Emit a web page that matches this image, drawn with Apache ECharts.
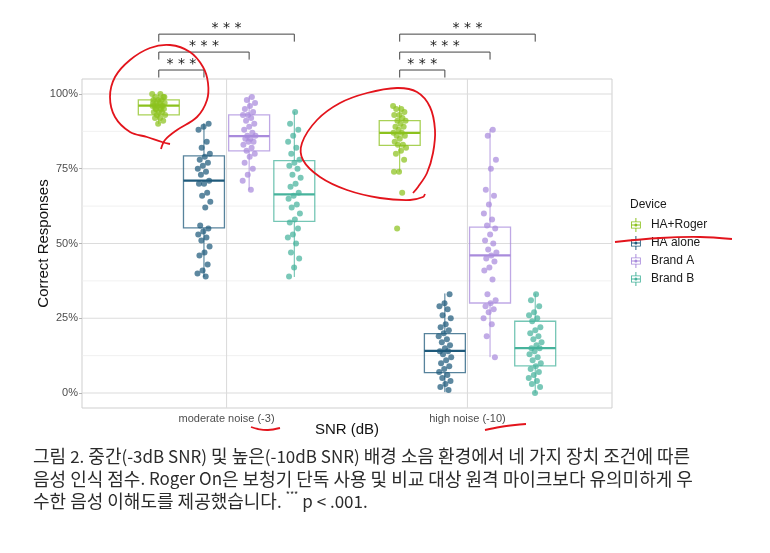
<!DOCTYPE html>
<html><head><meta charset="utf-8">
<script src="https://cdn.jsdelivr.net/npm/echarts@6/dist/echarts.min.js"></script>
<style>html,body{margin:0;padding:0;background:#fff}#c{width:770px;height:553px}</style>
</head><body><div id="c"></div>
<script>
// ---------- data ----------
const categories = ['moderate noise (-3)', 'high noise (-10)'];
const devices = ['HA+Roger', 'HA alone', 'Brand A', 'Brand B'];
const yTicks = [0, 25, 50, 75, 100];

// box stats [min, Q1, median, Q3, max], one per condition
const boxHARoger = [[90, 93, 96.1, 98, 100], [74, 82.8, 87, 91.1, 96.3]];
const boxHAAlone = [[38.8, 55.2, 71, 79.3, 90.2], [0.3, 6.8, 14.1, 19.9, 33.3]];
const boxBrandA  = [[67.9, 81, 85.9, 93, 99.3], [12, 30.1, 46, 55.5, 88.3]];
const boxBrandB  = [[38.8, 57.4, 66.4, 77.7, 94.1], [0, 9.1, 15, 24, 33.3]];

// individual scores, one list per condition
const ptsHARoger = [
  [100, 100, 99, 99, 98, 98, 98, 97, 97, 97, 96, 96, 96, 96, 95, 95, 95, 94, 94, 94, 93, 93, 92, 92, 91, 90, 97, 96, 95, 99],
  [96, 95, 95, 94, 93, 93, 92, 91, 91, 90, 89, 89, 88, 87, 87, 86, 86, 85, 84, 83, 83, 82, 81, 80, 78, 74, 74, 67, 55]
];
const ptsHAAlone = [
  [90, 89, 88, 84, 82, 80, 79, 78, 77, 76, 75, 74, 73, 71, 70, 70, 67, 66, 64, 62, 56, 55, 54, 53, 52, 51, 49, 47, 46, 43, 41, 40, 39],
  [33, 30, 29, 28, 26, 25, 23, 22, 21, 20, 19, 18, 17, 16, 15, 14, 14, 13, 12, 11, 10, 9, 8, 7, 6, 5, 4, 3, 2, 1]
];
const ptsBrandA = [
  [99, 98, 97, 96, 95, 94, 93, 93, 92, 91, 90, 89, 88, 87, 86, 86, 85, 85, 84, 84, 83, 82, 81, 80, 79, 77, 75, 73, 71, 68],
  [88, 86, 78, 75, 68, 66, 63, 60, 58, 56, 55, 53, 51, 50, 48, 47, 46, 45, 44, 42, 41, 38, 33, 31, 30, 29, 28, 27, 25, 23, 19, 12]
];
const ptsBrandB = [
  [94, 90, 88, 86, 84, 82, 80, 78, 77, 76, 75, 73, 72, 70, 69, 67, 66, 65, 63, 62, 60, 58, 57, 55, 53, 52, 50, 47, 45, 42, 39],
  [33, 31, 29, 27, 26, 25, 24, 22, 21, 20, 19, 18, 17, 16, 15, 15, 14, 13, 12, 11, 10, 9, 8, 7, 6, 5, 4, 3, 2, 0]
];

// pairwise comparisons (same in both conditions)
const comparisons = [['HA+Roger', 'HA alone'], ['HA+Roger', 'Brand A'], ['HA+Roger', 'Brand B']];
const sigLabel = '***';

const captionLines = [
  '그림 2. 중간(-3dB SNR) 및 높은(-10dB SNR) 배경 소음 환경에서 네 가지 장치 조건에 따른',
  '음성 인식 점수. Roger On은 보청기 단독 사용 및 비교 대상 원격 마이크보다 유의미하게 우',
  '수한 음성 이해도를 제공했습니다.'
];
const captionNote = 'p < .001.';

// ---------- styling / layout ----------
const colors = ['#8cc21e', '#1f5a7b', '#a98bdc', '#47b39c'];
const boxes = [boxHARoger, boxHAAlone, boxBrandA, boxBrandB];
const points = [ptsHARoger, ptsHAAlone, ptsBrandA, ptsBrandB];
const FONT = 'Liberation Sans';
const dodge = d => (d - 1.5) * 0.1875;
const jitter = i => (((i * 0.6180339) % 1) - 0.5) * 0.055;

function boxRender(params, api) {
  const x = api.value(0), mn = api.value(1), q1 = api.value(2), md = api.value(3), q3 = api.value(4), mx = api.value(5);
  const hw = 0.085;
  const tl = api.coord([x - hw, q3]), br = api.coord([x + hw, q1]);
  const pMin = api.coord([x, mn]), pMax = api.coord([x, mx]), pMd = api.coord([x, md]);
  const color = api.visual('color');
  return {type: 'group', children: [
    {type: 'line', shape: {x1: pMax[0], y1: pMax[1], x2: pMax[0], y2: tl[1]}, style: {stroke: color, lineWidth: 1, opacity: 0.85}},
    {type: 'line', shape: {x1: pMin[0], y1: br[1], x2: pMin[0], y2: pMin[1]}, style: {stroke: color, lineWidth: 1, opacity: 0.85}},
    {type: 'rect', shape: {x: tl[0], y: tl[1], width: br[0] - tl[0], height: br[1] - tl[1]},
      style: {fill: 'rgba(255,255,255,0)', stroke: color, lineWidth: 1.3, opacity: 0.75}},
    {type: 'line', shape: {x1: tl[0], y1: pMd[1], x2: br[0], y2: pMd[1]}, style: {stroke: color, lineWidth: 2.2}}
  ]};
}

// gridlines (major at ticks, minor at midpoints, vertical at categories)
const gridData = [];
yTicks.forEach((v, i) => {
  gridData.push([0, v, 1]);
  if (i < yTicks.length - 1) gridData.push([0, (v + yTicks[i + 1]) / 2, 0]);
});
categories.forEach((c, i) => gridData.push([1, i + 1, 1]));

function gridRender(params, api) {
  const cs = params.coordSys;
  const o = api.value(0), v = api.value(1), major = api.value(2);
  const style = {stroke: major ? '#dcdcdc' : '#ececec', lineWidth: major ? 1.1 : 0.8};
  if (o === 0) {
    const y = api.coord([1, v])[1];
    return {type: 'line', shape: {x1: cs.x, y1: y, x2: cs.x + cs.width, y2: y}, style};
  }
  const x = api.coord([v, 50])[0];
  return {type: 'line', shape: {x1: x, y1: cs.y, x2: x, y2: cs.y + cs.height}, style};
}

const bracketData = [];
categories.forEach((c, ci) => comparisons.forEach((cmp, k) => {
  bracketData.push([ci, devices.indexOf(cmp[0]), devices.indexOf(cmp[1]), k]);
}));
function bracketRender(params, api) {
  const c = api.value(0), a = api.value(1), b = api.value(2), k = api.value(3);
  const yv = 108 + 6 * k;
  const p1 = api.coord([c + 1 + dodge(a), yv]);
  const p2 = api.coord([c + 1 + dodge(b), yv]);
  const st = {stroke: '#444', lineWidth: 1};
  return {type: 'group', children: [
    {type: 'polyline', shape: {points: [[p1[0], p1[1] + 7.5], [p1[0], p1[1]], [p2[0], p2[1]], [p2[0], p2[1] + 7.5]]}, style: Object.assign({fill: null}, st)},
    {type: 'text', style: {text: sigLabel.split('').join(' '), x: (p1[0] + p2[0]) / 2, y: p1[1] + 1.5, align: 'center', verticalAlign: 'bottom',
      fontSize: 14, fontFamily: 'DejaVu Sans', fill: '#1a1a1a'}}
  ]};
}

const series = [
  {type: 'custom', name: 'grid', renderItem: gridRender, data: gridData, z: 1, silent: true, clip: false}
];
devices.forEach((name, d) => {
  series.push({
    type: 'custom', name, renderItem: boxRender, z: 3, silent: true,
    itemStyle: {color: colors[d]},
    data: boxes[d].map((b, c) => [c + 1 + dodge(d)].concat(b))
  });
});
devices.forEach((name, d) => {
  const data = [];
  points[d].forEach((arr, c) => arr.forEach((v, i) => data.push([c + 1 + dodge(d) + jitter(i + d * 3), v])));
  series.push({
    type: 'scatter', name, data, symbolSize: 6, z: 4, silent: true,
    itemStyle: {color: colors[d], opacity: 0.72}
  });
});
series.push({type: 'custom', name: 'brackets', renderItem: bracketRender, data: bracketData, z: 5, silent: true, clip: false});

const iconPath = 'path://M9.3 0H10.7V5H9.3Z M3 5H17V15H3Z M4.2 6.2V13.8H15.8V6.2Z M3 9.3H17V10.7H3Z M9.3 15H10.7V20H9.3Z M10 7.8A2.2 2.2 0 1 1 10 12.2A2.2 2.2 0 1 1 10 7.8Z';

// caption: Latin runs get their own (slightly smaller) rich style
const latinWrap = s => s.replace(/[!-~]+(?: [!-~]+)*/g, m => '{lat|' + m + '}');
const captionText = latinWrap(captionLines[0]) + '\n' + latinWrap(captionLines[1]) + '\n' +
  latinWrap(captionLines[2]) + ' {sup|' + sigLabel + '} ' + latinWrap(captionNote);

const red = '#e3141c';
const redLine = pts => ({type: 'polyline', shape: {points: pts, smooth: 0.35}, style: {stroke: red, lineWidth: 1.8, fill: null}, z: 100});

const chart = echarts.init(document.getElementById('c'), null, {renderer: 'canvas'});
chart.setOption({
  backgroundColor: '#fff',
  animation: false,
  textStyle: {fontFamily: FONT},
  title: [
    {text: 'Device', left: 630, top: 199, padding: 0, textStyle: {fontSize: 12, fontWeight: 'normal', color: '#1a1a1a', fontFamily: FONT}},
    {
      text: captionText,
      left: 33, top: 445, padding: 0,
      textStyle: {fontSize: 18, fontWeight: 'normal', color: '#2b2b2b', lineHeight: 22.5, fontFamily: 'Noto Sans CJK KR',
        rich: {
          lat: {fontSize: 17, lineHeight: 22.5, fontFamily: 'Noto Sans CJK KR', color: '#2b2b2b'},
          sup: {fontSize: 9, verticalAlign: 'top', lineHeight: 12, fontFamily: 'Noto Sans CJK KR', color: '#2b2b2b'}
        }}
    }
  ],
  legend: {
    orient: 'vertical', left: 626, top: 213, itemWidth: 14, itemHeight: 14, itemGap: 4,
    selectedMode: false,
    textStyle: {fontSize: 12, color: '#1a1a1a', fontFamily: FONT, padding: [0, 0, 0, 3]},
    data: devices.map(n => ({name: n, icon: iconPath}))
  },
  grid: {left: 82, top: 79, width: 530, height: 329, show: true, borderColor: '#cfcfcf', borderWidth: 1, backgroundColor: 'transparent'},
  xAxis: {
    type: 'value', min: 0.4, max: 2.6,
    name: 'SNR (dB)', nameLocation: 'middle', nameGap: 14, nameMoveOverlap: false,
    nameTextStyle: {fontSize: 15, color: '#111', fontFamily: FONT},
    axisLine: {show: false},
    splitLine: {show: false},
    axisTick: {show: true, customValues: [1, 2], length: 3, lineStyle: {color: '#b3b3b3'}},
    axisLabel: {customValues: [1, 2], formatter: v => categories[Math.round(v) - 1], fontSize: 11, color: '#4d4d4d', margin: 5}
  },
  yAxis: {
    type: 'value', min: -5, max: 105,
    name: 'Correct Responses', nameLocation: 'middle', nameGap: 31, nameRotate: 90, nameMoveOverlap: false,
    nameTextStyle: {fontSize: 15, color: '#111', fontFamily: FONT},
    axisLine: {show: false},
    splitLine: {show: false},
    axisTick: {show: true, customValues: yTicks, length: 3, lineStyle: {color: '#b3b3b3'}},
    axisLabel: {customValues: yTicks, formatter: v => v + '%', fontSize: 11, color: '#4d4d4d', margin: 4}
  },
  series,
  graphic: [
    redLine([[161,149],[165,140],[177,130],[197,117],[207,100],[208,83],[203,67],[190,52],[170,45],[150,48],[130,60],[115,77],[110,97],[115,117],[130,132],[147,137],[162,142],[170,144]]),
    redLine([[413,193],[418,187],[427,173],[433,153],[435,130],[430,107],[417,92],[397,88],[367,93],[340,103],[317,120],[302,143],[303,160],[320,177],[347,190],[380,198],[410,200],[423,197],[425,194]]),
    redLine([[615,242],[660,238],[700,237],[732,239]]),
    redLine([[251,427],[258,429],[268,430],[280,428]]),
    redLine([[485,430],[500,427],[515,425],[526,424]])
  ]
});
</script></body></html>
